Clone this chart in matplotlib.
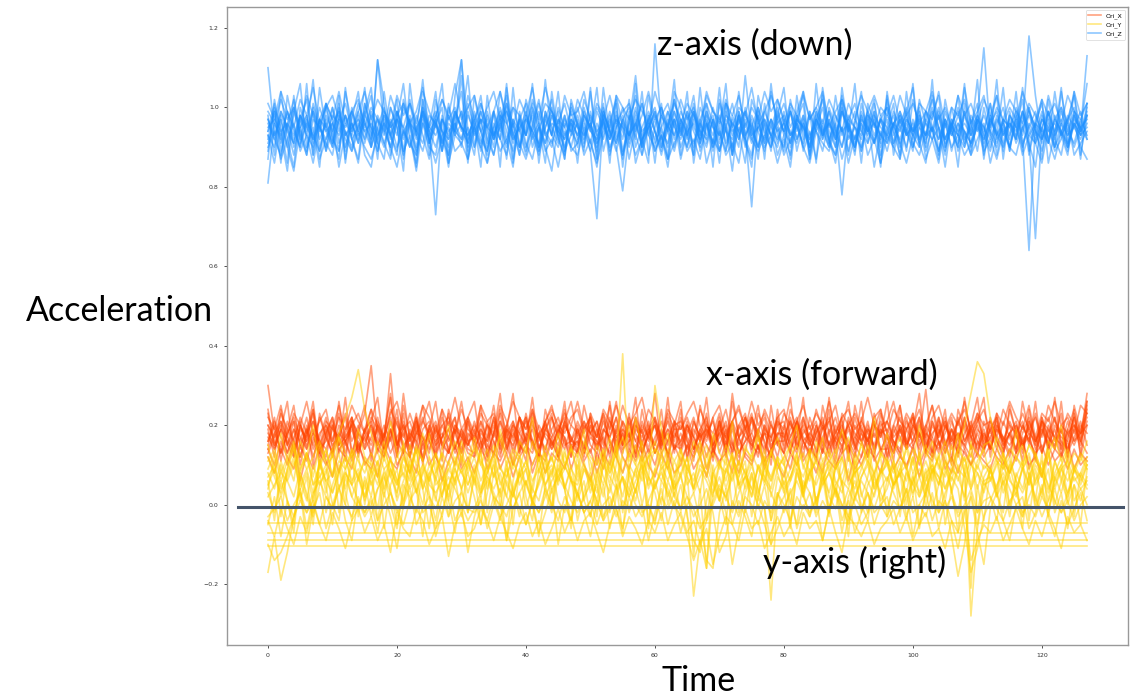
import numpy as np
import matplotlib
matplotlib.use("Agg")
import matplotlib.pyplot as plt

# values in hundredths, one string per recorded window (128 samples each)
ori_z = [
"""110 93 97 90 99 94 88 101 95 92 98 96 89 100 94 97
91 112 95 90 99 93 97 88 102 94 73 98 92 96 90 101
95 89 99 93 97 91 100 94 88 96 102 93 90 97 95 99
92 96 89 72 98 94 91 97 100 93 88 95 99 92 96 90
97 93 101 89 95 98 92 96 90 99 94 75 97 91 95 100
93 88 97 95 91 99 94 90 96 102 92 95 89 98 93 97
91 96 94 99 90 95 93 100 92 97 89 96 94 91 98 115
93 90 97 95 99 92 64 96 94 91 98 93 96 90 95 97""",
"""81 96 92 99 94 90 97 93 100 95 91 98 94 89 96 92
99 94 90 97 93 101 95 89 96 92 98 94 90 99 95 93
97 90 96 92 100 94 89 97 93 99 95 91 98 94 90 96
93 99 95 90 97 92 96 88 94 100 93 97 91 95 99 92
96 90 98 94 92 97 89 95 101 93 96 91 98 94 90 97
94 99 92 96 90 97 93 100 95 78 96 92 98 94 91 97
95 90 98 93 96 92 99 94 89 97 93 96 91 98 95 92
97 93 90 96 94 99 92 67 95 91 97 94 90 96 93 99""",
"""94 101 89 96 92 98 93 90 97 95 100 91 96 93 99 94
90 97 93 100 95 88 96 92 98 94 90 97 93 99 95 91
98 94 89 96 92 99 93 97 90 95 101 94 91 97 93 96
90 98 94 92 97 89 95 100 93 96 91 98 94 90 97 93
99 95 91 96 93 100 94 89 97 92 98 95 90 96 93 99
94 91 97 95 90 98 93 96 92 99 94 90 97 95 91 98
93 96 90 97 94 99 92 95 89 96 93 98 94 91 97 95
90 98 93 96 92 99 94 91 97 95 90 96 93 98 94 113""",
"""98 88 104 92 85 100 95 107 89 97 91 103 86 99 94 105
90 112 101 88 97 106 92 86 100 95 104 89 98 93 108 87
96 103 91 99 85 105 94 88 102 96 90 107 93 99 87 101
95 89 104 92 98 86 103 95 91 106 88 97 100 93 87 102
94 99 88 105 91 97 86 101 95 90 108 93 99 87 104 96
89 102 94 98 87 106 92 97 90 103 95 88 101 94 99 86
104 93 97 89 102 95 91 107 88 99 94 103 90 96 101 87
98 93 105 89 100 95 118 103 92 97 90 104 94 99 87 101""",
"""92 99 86 103 95 90 106 88 97 101 93 87 104 96 91 99
105 89 96 93 102 87 98 94 107 91 96 100 86 103 112 94
88 101 95 90 104 97 86 99 93 106 89 97 102 92 88 100
96 91 105 87 99 94 101 89 96 108 92 86 116 95 90 104
100 93 88 100 96 91 105 89 98 94 86 102 97 91 106 93
90 99 95 104 87 97 102 92 88 105 94 99 86 101 96 91
103 88 97 93 106 90 99 95 87 102 94 90 105 96 89 100
93 107 89 98 95 102 88 96 101 91 104 93 88 99 95 106""",
"""95 97 94 96 93 98 95 92 97 94 96 99 93 95 97 94
96 93 98 95 97 92 96 94 99 95 93 97 94 96 92 98
94 97 95 93 98 96 92 95 97 94 99 93 96 95 92 97
95 93 98 94 96 92 97 95 93 99 94 96 92 98 95 93
97 94 96 92 98 95 93 97 94 96 99 93 95 92 97 94
96 93 98 95 92 97 94 96 93 99 95 92 97 94 96 93
98 95 92 97 94 96 93 99 95 92 97 94 96 93 98 95
92 97 94 96 93 99 95 92 97 94 96 93 98 95 92 96""",
"""90 94 87 92 96 89 93 86 95 91 88 97 92 89 94 90
87 93 96 90 85 94 91 88 97 92 86 93 95 89 91 87
94 90 86 95 92 88 97 91 87 93 96 89 92 85 94 90
88 95 91 86 93 97 90 79 94 88 92 96 89 93 87 91
95 89 92 87 96 90 94 88 91 86 97 92 89 93 90 95
88 92 96 90 86 94 91 89 95 87 93 90 96 88 92 86
93 90 87 95 91 88 94 92 86 96 90 93 88 91 95 89
92 87 94 90 96 88 93 91 86 95 89 92 97 88 91 94""",
"""99 96 102 97 100 95 103 98 94 101 97 104 96 99 102 95
100 97 94 103 98 101 96 99 105 95 98 102 97 100 94 103
97 101 95 99 104 96 100 98 93 102 97 105 99 96 101 94
102 98 95 100 97 103 96 99 101 94 98 104 97 100 95 102
96 101 98 94 103 99 97 102 95 100 98 105 96 99 103 97
101 95 99 104 97 100 96 102 98 94 101 97 103 99 95 100
98 103 96 100 94 101 99 97 104 95 100 98 102 96 99 103
95 100 97 102 99 96 101 98 94 103 97 100 96 104 98 101""",
"""87 102 93 84 99 106 90 95 85 101 97 89 105 92 86 98
103 91 87 100 95 84 106 93 99 88 102 94 85 97 104 90
96 85 103 92 98 87 105 90 95 101 86 99 93 104 89 97
86 100 94 105 89 96 102 85 98 92 104 88 95 101 87 99
93 104 86 97 101 90 95 106 88 99 92 85 103 96 89 102
97 87 103 92 99 86 105 94 90 101 88 96 104 91 97 85
102 94 88 99 105 91 86 98 103 90 96 85 101 93 107 88
96 103 87 99 92 105 89 97 102 86 94 100 91 104 88 98""",
"""93 90 99 95 88 97 102 91 96 89 100 94 98 92 87 101
95 91 98 93 88 102 96 90 99 94 97 89 101 93 96 108
90 99 94 88 97 103 92 95 89 100 96 91 98 93 87 102
96 90 99 93 101 88 95 98 92 97 90 103 94 89 99 95
92 98 94 90 101 96 89 99 93 97 92 88 100 95 91 98
94 100 89 96 92 99 95 90 103 93 97 89 98 94 101 92
97 91 99 94 89 102 96 92 98 90 95 100 93 88 97 94
101 93 96 89 98 94 100 91 95 99 92 88 97 103 94 98""",
"""97 92 88 95 100 91 96 93 89 98 94 99 90 96 92 101
94 89 97 92 99 95 90 98 93 87 96 91 100 94 112 89
95 99 92 88 96 101 93 90 97 94 89 99 95 91 98 93
100 94 89 96 92 98 91 97 87 95 101 93 90 98 94 89
96 92 99 94 90 97 93 101 88 95 92 98 94 89 97 91
99 93 96 90 98 94 89 97 92 100 95 91 96 93 99 88
94 98 91 96 93 100 89 95 92 97 94 90 99 93 96 91
98 92 95 90 97 93 100 94 89 96 92 99 94 91 97 93""",
"""91 96 93 99 90 95 98 92 97 89 94 100 93 96 91 98
95 92 99 96 90 94 97 93 100 91 96 89 98 94 92 99
93 97 90 95 99 92 96 88 98 94 91 97 93 100 95 90
97 92 96 91 99 94 89 96 93 98 92 95 99 90 94 97
90 95 99 93 96 91 97 94 88 98 93 96 90 99 95 92
96 91 98 94 90 97 93 99 92 95 89 97 94 91 98 95
93 99 95 90 97 92 96 94 98 91 95 93 99 90 96 92
97 94 91 98 95 90 96 93 99 92 97 94 91 96 93 98""",
"""97 93 99 95 91 98 94 100 92 96 90 97 95 99 93 96
92 98 94 90 97 95 101 93 89 96 99 94 92 98 95 91
99 94 97 92 95 100 91 96 93 98 90 95 99 94 92 97
93 97 91 99 95 92 98 94 90 96 101 93 97 91 95 99
94 90 97 93 99 95 91 98 96 92 100 94 90 97 93 96
98 93 95 91 99 94 97 92 96 90 98 95 93 99 91 97
92 96 99 94 90 97 93 95 100 92 96 91 98 94 97 90
96 99 93 97 91 95 98 94 92 99 93 96 90 97 95 92""",
"""89 100 95 86 103 92 98 88 105 94 90 101 87 97 104 91
98 87 104 93 89 100 96 85 102 91 97 106 88 95 99 86
103 94 88 99 92 106 87 97 101 90 95 86 104 93 98 89
91 102 97 87 105 93 99 88 96 103 90 98 86 100 94 107
88 96 103 91 99 85 102 95 89 104 93 97 87 101 92 98
105 90 97 101 88 95 103 92 86 99 94 106 89 96 102 90
95 101 87 104 92 98 90 103 95 88 100 93 106 89 97 93
101 88 96 92 104 89 99 95 87 102 93 105 90 98 94 100""",
"""96 92 98 94 91 97 93 99 95 90 96 93 98 92 95 99
93 97 91 96 99 94 90 95 98 93 97 91 96 94 99 92
95 91 98 93 96 90 97 94 99 92 95 98 93 90 96 94
98 93 96 91 94 99 92 97 93 96 90 95 98 94 91 97
93 99 95 92 97 93 98 91 96 94 99 92 95 97 93 90
97 94 91 98 93 96 92 99 94 90 97 95 92 98 96 93
91 96 98 93 95 91 97 94 99 92 96 93 90 97 94 98
94 91 97 95 92 98 93 96 91 99 94 97 93 95 99 92""",
"""93 86 97 90 84 95 89 99 87 92 96 85 94 90 98 88
85 95 91 87 98 89 93 84 96 90 88 97 86 93 91 95
90 97 86 94 89 92 85 98 91 87 95 90 84 96 89 93
96 88 92 85 97 90 94 87 99 86 92 95 89 93 85 97
87 94 90 97 86 92 89 95 84 98 91 87 96 90 93 86
92 85 98 89 94 87 96 91 88 95 86 93 90 97 85 94
89 96 91 86 93 98 87 92 95 85 97 89 94 88 92 96
86 93 97 90 88 95 91 85 98 92 87 94 89 96 90 87""",
"""101 97 104 99 95 102 98 105 96 100 103 97 101 94 99 104
97 102 99 95 103 98 101 96 104 99 95 102 98 106 97 100
103 96 100 104 97 99 95 102 98 105 96 101 99 94 103 98
99 104 96 101 98 95 103 100 97 102 99 96 104 98 101 95
102 97 100 95 104 99 96 101 98 103 95 100 97 104 99 102
96 101 98 103 97 100 104 95 99 102 97 101 94 99 103 98
100 95 103 98 101 96 99 104 97 100 95 103 98 101 96 102
98 103 96 100 97 104 99 95 102 98 101 96 103 99 97 101""",
"""94 99 91 96 102 93 88 97 95 100 92 89 98 94 101 96
90 95 100 93 97 89 102 94 91 98 96 92 88 99 95 93
97 92 89 99 94 101 96 90 98 93 88 95 100 92 97 94
91 98 95 89 100 93 97 92 102 90 95 99 94 88 96 101
97 93 99 91 96 89 101 94 92 98 90 95 100 93 97 88
93 99 92 97 89 95 100 91 98 94 96 90 99 95 92 97
100 91 95 98 93 90 97 102 94 89 96 99 92 95 98 93
89 96 100 93 97 91 95 99 92 98 90 94 97 100 93 95""",
]

ori_x = [
"""30 18 14 21 16 12 19 15 22 17 13 20 16 11 18 23
35 17 14 21 15 19 12 18 22 16 13 20 17 14 19 15
21 16 12 18 23 15 19 13 17 21 14 18 16 12 20 17
14 19 22 15 17 12 20 16 18 13 21 17 15 19 12 18
16 21 14 18 12 17 20 15 19 13 16 22 14 18 17 12
19 15 21 16 13 18 22 14 17 20 15 12 19 16 21 14
17 13 20 15 18 22 16 12 19 14 21 17 15 20 13 18
15 20 16 12 19 14 21 17 13 18 22 16 14 19 15 24""",
"""24 15 19 13 17 21 14 18 16 12 20 15 19 22 14 17
13 20 16 33 15 18 12 21 17 14 19 16 13 20 18 15
18 14 21 16 12 19 17 22 15 13 18 20 14 17 21 16
21 17 13 19 15 22 14 18 12 20 16 19 13 17 21 15
14 19 16 12 21 15 18 20 13 17 22 14 19 16 12 18
17 21 14 19 16 12 20 15 18 22 13 17 15 20 14 19
12 18 22 16 14 20 17 13 21 15 19 16 22 14 18 13
20 16 13 18 21 15 17 12 19 14 20 17 16 22 13 25""",
"""16 22 11 19 25 14 20 10 23 17 13 26 15 21 12 19
24 13 18 27 12 20 16 23 11 19 26 14 17 22 10 21
15 25 12 18 28 14 21 16 11 24 19 13 22 17 26 12
20 14 23 10 18 25 13 21 17 27 12 19 15 24 11 20
26 12 19 16 23 11 21 14 28 17 13 22 18 10 25 15
13 21 17 27 12 20 15 24 11 19 26 14 22 16 12 23
18 11 25 14 20 17 29 13 22 16 10 24 19 14 21 27
12 23 16 20 13 26 18 11 22 15 27 14 19 24 12 20""",
"""12 8 14 10 16 6 13 9 15 11 7 14 12 9 16 10
13 7 15 11 9 14 12 8 16 10 13 6 11 15 9 12
8 14 11 16 9 13 7 12 15 10 14 8 13 11 17 9
14 10 6 13 9 15 12 8 14 11 16 10 7 13 9 15
11 15 9 12 7 14 10 16 12 8 13 11 15 9 14 10
7 13 10 16 12 8 14 11 9 15 6 13 10 14 12 8
15 9 12 10 14 7 13 11 16 9 12 8 14 10 13 11
9 14 11 8 13 16 10 12 7 15 11 13 9 14 10 12""",
"""22 19 25 17 23 20 26 18 21 24 16 22 19 25 21 18
24 20 17 23 26 19 21 16 25 22 18 24 20 27 19 22
18 25 21 23 17 20 26 22 19 24 16 21 25 18 23 20
26 19 22 17 24 21 18 25 20 23 27 19 22 16 24 21
19 23 26 20 17 22 25 18 21 24 19 26 20 23 17 22
24 17 21 25 19 23 20 26 18 22 24 19 21 27 20 18
21 26 18 23 20 24 17 22 25 19 23 20 26 18 21 24
18 23 20 26 22 19 25 17 23 21 26 20 22 18 25 23""",
"""17 14 19 16 13 20 15 18 12 17 21 14 16 19 13 18
15 19 13 17 21 14 18 16 12 20 15 17 19 13 16 21
14 18 16 20 13 17 15 19 22 14 18 12 17 20 15 16
19 13 17 15 21 16 12 18 14 19 17 21 13 16 18 14
16 20 14 18 15 12 19 17 21 13 16 18 14 20 15 17
13 17 21 14 18 16 20 12 17 15 19 14 18 16 21 13
18 15 12 19 16 21 14 17 13 20 16 18 15 12 19 17
14 19 17 13 20 15 18 16 21 14 17 12 19 16 18 20""",
"""19 12 24 15 21 10 18 26 13 20 16 23 11 22 17 14
21 27 14 19 12 25 17 22 10 20 15 24 13 18 26 16
12 21 17 25 14 19 28 13 22 16 11 24 18 15 21 26
17 13 23 19 11 26 15 21 18 12 24 16 20 14 27 13
22 16 11 25 18 14 21 12 26 17 20 13 23 19 10 24
15 24 19 12 22 17 13 27 16 21 11 25 18 14 23 17
26 14 20 16 23 12 19 25 15 18 22 13 27 17 12 21
16 22 13 25 18 11 24 15 21 19 14 26 12 23 17 28""",
"""14 18 21 15 12 19 17 23 14 16 20 13 18 22 15 17
20 14 17 22 16 13 19 15 21 18 12 17 23 14 19 16
17 21 13 18 15 20 14 22 16 19 13 21 15 18 24 14
16 12 20 17 23 15 18 13 21 16 19 14 22 17 13 20
21 17 14 19 16 22 13 18 15 20 23 16 12 19 17 21
14 19 22 16 13 18 21 15 20 17 14 22 16 19 13 18
19 16 13 21 18 14 20 17 22 15 19 12 18 21 16 14
17 21 15 18 14 20 16 23 13 19 17 15 21 16 20 18""",
"""20 16 13 18 22 17 14 21 15 19 12 18 23 16 20 14
17 22 15 19 13 28 16 20 14 18 21 15 13 19 17 22
16 13 20 17 21 14 18 15 23 16 12 19 22 17 14 20
18 21 15 13 19 17 22 14 16 20 18 13 17 21 15 19
13 18 22 16 20 14 17 21 15 12 19 23 16 18 14 20
21 14 17 20 15 19 13 18 22 16 20 15 12 19 17 21
15 20 17 14 22 16 19 13 18 21 14 17 20 16 23 15
19 14 21 17 13 18 22 16 20 15 19 13 17 22 16 21""",
"""15 21 17 13 19 16 22 14 18 20 15 17 13 21 18 16
19 15 20 16 24 13 17 21 15 18 14 22 16 19 13 17
20 17 14 22 16 19 13 18 21 15 20 17 14 19 22 15
13 20 18 16 14 21 17 19 15 22 13 18 20 16 19 14
18 14 21 17 19 16 22 13 20 15 18 21 17 14 20 16
16 22 15 18 20 13 17 21 14 19 16 13 21 18 15 20
21 17 19 14 16 22 15 18 20 13 17 21 16 19 14 18
14 19 16 21 17 15 20 14 18 22 16 19 13 17 21 15""",
"""18 15 21 17 14 20 16 19 13 18 22 15 17 20 14 19
16 20 14 18 22 15 17 13 19 21 16 18 14 20 17 15
19 14 17 21 16 13 20 18 15 22 14 19 17 13 21 16
15 21 18 14 19 17 22 15 20 16 13 18 21 15 19 17
20 16 13 19 22 15 18 14 21 17 19 15 13 20 16 22
17 13 20 16 18 21 14 19 16 13 22 17 20 15 18 14
14 19 16 22 15 18 13 20 17 21 15 18 14 19 22 16
21 17 14 18 20 16 19 15 22 17 14 20 18 15 19 23""",
"""13 17 20 15 19 12 18 21 16 14 19 17 22 13 18 15
20 16 12 19 15 21 14 18 17 13 20 15 19 22 14 18
16 19 15 13 21 17 20 14 18 16 12 21 15 19 17 13
19 14 18 21 16 13 19 15 22 18 14 17 20 13 16 21
15 20 17 14 18 21 15 19 13 20 17 15 19 22 14 18
18 13 21 17 15 20 16 13 19 14 21 18 16 12 20 17
21 16 14 19 22 15 18 16 14 20 17 13 21 17 15 19
14 20 17 15 18 13 21 16 19 15 22 14 18 20 16 13""",
"""23 14 19 26 12 20 16 24 10 18 22 15 27 13 19 25
11 21 17 28 14 23 12 19 25 16 20 11 24 18 13 22
26 15 20 12 24 18 10 22 16 27 14 19 23 12 20 17
13 25 18 21 11 19 26 15 23 12 20 17 28 14 22 16
24 11 21 17 27 13 19 24 16 10 22 18 25 15 12 21
19 27 14 22 16 11 25 18 13 23 20 15 26 12 19 24
12 20 25 15 19 28 13 21 17 24 11 22 16 20 27 14
22 16 12 24 18 21 15 26 13 20 17 23 11 25 18 26""",
"""14 10 16 12 9 15 11 17 13 10 14 8 16 12 15 11
9 14 12 17 10 13 8 15 11 16 12 9 14 10 17 13
12 16 9 13 11 15 10 14 17 8 13 11 16 12 9 15
16 11 14 8 13 10 17 12 9 15 11 14 10 16 13 8
10 15 12 16 9 14 11 13 8 17 12 10 15 11 14 16
13 9 17 11 14 12 8 16 10 13 15 9 12 17 11 14
11 16 13 9 15 10 14 12 16 11 8 15 13 10 16 12
15 12 10 14 11 17 9 13 15 10 14 12 16 9 13 11""",
"""20 17 23 19 16 22 18 24 15 21 19 25 17 20 23 18
22 19 16 24 20 17 23 18 21 26 17 20 22 18 24 19
17 23 20 18 25 21 16 22 19 23 17 21 24 20 18 22
24 18 21 17 23 19 25 20 16 22 18 24 21 17 23 19
19 22 17 24 20 18 23 16 21 25 19 22 18 24 20 17
23 20 18 22 16 24 19 21 25 17 20 23 19 16 22 24
18 24 21 19 23 17 20 25 18 22 16 21 24 19 23 20
21 17 24 20 18 23 19 22 17 25 21 18 23 20 16 26""",
"""16 20 13 18 21 15 19 12 17 22 14 18 16 20 13 19
21 15 18 13 17 20 14 22 16 19 13 17 21 15 18 14
13 19 16 22 14 18 21 15 13 20 17 14 19 22 16 12
18 15 20 14 22 16 13 19 17 21 15 20 13 18 16 21
14 20 17 13 19 15 21 17 14 19 22 16 18 13 21 15
20 16 13 21 17 14 19 22 15 18 13 20 16 21 14 19
17 13 19 15 20 18 14 21 16 13 19 15 22 17 20 14
19 22 15 18 14 20 16 13 21 17 15 19 14 20 18 22""",
]

ori_y = [
"""-17 -8 -19 -12 -3 4 -6 2 8 -2 5 10 3 -4 7 1
6 -1 9 4 -5 3 11 6 0 8 2 -3 5 9 4 -2
7 3 10 1 -4 6 2 9 -1 5 12 3 -2 7 4 10
1 6 -3 8 2 11 5 -1 4 9 0 7 3 -4 6 2
8 -2 -23 -9 -16 3 7 1 9 -2 5 10 4 -1 -24 2
6 0 9 3 -3 7 11 2 -1 6 4 9 -2 5 8 1
4 10 2 -4 7 3 9 -1 5 11 3 -2 8 -28 -6 4
9 2 6 -3 8 4 10 0 5 -2 7 3 9 1 4 6""",
"""12 7 3 9 14 6 1 10 5 8 13 4 9 2 7 11
5 9 3 12 6 1 8 14 4 10 7 2 11 5 9 3
8 13 4 10 2 7 12 5 9 1 6 11 3 8 14 6
2 9 5 12 7 3 10 38 6 1 8 13 4 9 2 7
11 5 8 3 13 6 1 9 12 4 7 2 10 5 14 8
3 7 12 4 9 1 6 11 5 8 13 2 7 10 4 9
6 11 2 8 5 13 3 9 7 1 10 6 12 4 8 3
9 4 12 7 2 10 5 13 8 3 11 6 1 9 5 10""",
"""-5 2 -8 1 -3 4 -10 -1 3 -6 0 5 -4 -9 2 -2
1 -7 3 -3 -11 0 4 -5 -1 2 -8 -2 5 -4 0 -12
-3 2 -6 0 4 -9 -1 3 -5 1 -7 -2 4 -10 0 -4
3 -2 -8 1 -4 5 -1 -6 2 -3 0 -9 -2 4 -5 1
-7 0 3 -4 -14 -16 -2 4 -5 1 -3 -8 2 -1 -10 3
-2 4 -6 0 -3 2 -9 -1 5 -4 1 -7 -2 3 -5 0
2 -5 -1 4 -8 0 -3 3 -6 1 -4 -11 -2 2 -7 -15
-1 3 -4 -9 0 2 -6 -2 4 -3 -8 1 -5 -1 3 -4""",
"""8 4 11 6 2 9 13 5 7 10 3 8 12 6 9 4
11 7 2 9 5 12 8 3 10 6 13 7 4 11 8 5
9 3 12 7 10 5 2 8 11 6 9 13 4 7 10 6
5 10 7 3 11 8 13 6 2 9 12 7 4 10 6 11
7 12 4 9 6 2 10 8 13 5 7 11 3 9 6 12
10 6 13 4 8 11 7 3 9 12 5 8 10 6 2 9
12 5 8 10 3 7 11 6 13 4 9 7 2 10 8 5
6 11 3 8 12 9 5 10 7 13 4 9 11 6 8 12""",
"""2 5 8 6 10 13 9 12 16 11 14 18 22 27 34 24
18 13 9 11 6 8 4 7 10 5 3 6 9 12 8 11
14 10 7 4 8 2 -1 3 6 1 5 9 12 7 10 6
3 -2 1 5 -3 0 4 7 2 6 10 5 8 12 9 4
7 2 -1 -6 -3 1 5 2 7 11 8 4 9 6 3 -1
2 6 10 7 12 9 5 8 3 -1 4 0 -5 -2 3 7
11 8 13 9 5 2 6 10 7 4 8 14 20 28 36 33
22 15 9 12 6 3 7 2 -3 1 5 9 6 10 7 4""",
"""6 -4 10 1 -7 8 3 -2 12 5 -5 9 0 14 -3 7
2 11 -6 5 9 -1 13 4 -8 7 1 10 -3 6 12 -2
8 -5 3 11 0 -9 6 13 2 -4 9 5 -1 12 4 -6
10 1 -3 7 14 -2 5 -7 9 3 11 -4 6 0 13 2
-1 8 -13 4 -16 10 2 -5 11 6 -2 8 1 12 -4 7
4 -6 9 2 13 -1 7 -3 10 5 -8 11 3 -2 8 12
-3 6 11 0 8 -5 3 12 -1 9 4 -7 10 -21 5 -4
9 3 -2 11 6 -6 8 1 13 -3 7 10 0 5 -5 9""",
"""11 14 8 12 16 9 13 7 15 10 12 17 9 14 11 8
13 10 16 7 12 15 9 14 11 18 8 13 10 16 12 9
15 11 8 13 17 10 14 12 9 16 11 13 7 15 10 14
9 16 12 10 14 8 13 17 11 15 9 12 16 10 14 11
14 8 12 16 10 13 9 15 11 7 14 12 17 10 13 9
12 15 10 13 8 16 11 14 9 12 17 10 15 11 8 13
10 13 17 9 14 11 15 8 12 16 10 14 11 13 9 15
16 11 9 14 12 10 15 13 8 12 17 11 14 9 13 10""",
"""-3 -1 2 -4 0 3 -2 1 -5 2 -1 4 0 -3 1 -2
2 -4 0 3 -1 -5 1 4 -2 0 -6 2 -3 1 3 -1
-2 1 -4 2 0 -3 3 -1 -5 1 -2 4 0 -4 2 -1
3 -2 1 -5 0 2 -3 1 -1 4 -2 0 -4 2 -1 3
-1 2 -3 0 4 -2 -12 -8 1 -3 2 0 -5 1 -2 3
0 -4 2 -1 3 -3 1 -2 4 0 -5 2 -1 3 -2 0
-3 1 -1 4 -2 0 3 -4 1 -1 2 -3 0 4 -2 1
2 -1 -4 1 3 -2 0 -3 2 -1 4 -2 1 -4 0 2""",
"""4 12 -3 9 15 1 7 -5 11 3 14 -2 8 5 13 0
9 -4 6 12 2 16 -1 10 4 -6 8 13 1 7 -3 11
5 14 -2 8 3 11 -5 9 15 0 6 12 -1 10 4 -4
13 1 7 -3 11 5 16 -2 8 3 12 -6 9 14 0 6
-2 10 4 15 -4 8 1 13 -1 7 11 -3 6 14 2 9
12 -5 8 3 14 0 9 -2 11 6 -4 13 2 7 15 -1
6 11 -3 9 2 14 -1 8 12 -5 4 10 1 16 -2 7
10 3 13 -1 7 11 -4 9 2 14 0 6 12 -3 8 5""",
"""7 10 4 8 12 5 9 3 11 6 8 13 4 10 7 2
9 5 12 7 3 10 6 14 4 8 11 2 9 6 13 5
10 4 8 13 6 2 11 7 9 3 12 5 8 14 4 9
6 11 3 9 5 12 8 2 10 7 13 4 9 6 11 3
12 7 4 10 8 3 11 6 13 5 9 2 10 7 4 12
5 9 13 3 8 11 6 10 2 12 7 4 9 13 5 8
11 4 9 6 12 2 8 10 5 13 3 9 7 11 4 10
8 12 5 10 3 9 13 6 11 4 8 12 2 9 7 11""",
"""3 -2 6 1 -5 8 2 -3 5 9 0 -4 7 2 -1 6
-3 4 8 0 -6 5 2 -2 9 3 -4 6 1 -7 4 8
2 -5 7 3 -1 10 4 -3 6 0 -8 5 9 1 -2 7
-4 3 8 -1 5 -6 2 7 -2 4 9 0 -5 6 3 -1
5 -3 -9 -12 1 8 4 -2 -15 -6 3 7 -1 5 -4 2
8 1 -5 6 3 -2 9 -1 4 -7 2 6 0 -4 7 3
-1 5 8 -3 2 -6 4 9 -2 1 -8 -18 -10 3 -5 6
2 -4 7 0 5 -3 8 -1 4 9 -2 3 -6 5 1 7""",
"""9 13 6 11 15 8 12 5 10 14 7 11 9 13 6 12
10 7 14 9 5 12 8 15 11 6 13 9 4 11 14 8
12 6 10 15 9 7 13 11 5 10 14 8 12 6 9 15
7 14 11 5 12 9 15 8 13 10 6 12 14 9 11 5
13 9 6 12 15 8 11 4 10 14 7 13 9 12 6 11
8 12 15 10 6 13 9 11 14 5 12 8 10 15 7 13
11 5 9 14 8 12 6 13 10 7 15 9 12 5 11 14
6 10 13 8 12 15 7 11 9 14 6 10 13 8 12 9""",
"""-10 -14 -12 -8 -3 1 -2 3 6 2 -1 4 8 5 1 -3
0 4 7 3 -2 1 5 9 6 2 -1 3 7 4 0 -4
-1 3 6 2 -3 0 4 8 5 1 -2 2 6 9 5 1
-2 2 5 1 -4 -1 3 7 4 0 -3 1 5 8 4 0
-3 -8 -14 -9 -4 0 4 2 -2 3 7 4 0 -5 -10 -6
-1 3 6 2 -2 1 5 8 4 0 -3 2 6 3 -1 4
7 3 -1 2 6 9 5 1 -2 3 7 4 -6 -17 -11 -3
1 5 8 4 0 -3 2 6 9 5 1 -2 3 7 4 0""",
"""5 9 2 7 11 4 8 1 10 6 3 9 12 5 8 2
7 11 4 9 1 6 10 3 8 12 5 7 2 9 4 11
6 2 8 12 5 9 3 7 11 4 1 8 10 5 13 7
3 9 6 1 10 7 4 12 8 22 14 6 30 19 9 4
8 12 3 7 10 5 1 9 6 11 4 8 2 10 7 12
4 7 11 2 8 5 10 13 6 3 9 1 7 11 4 8
10 5 8 3 12 7 2 9 5 11 6 13 8 4 10 6
7 2 10 6 4 9 12 5 8 1 11 7 3 9 6 10""",
"""15 8 18 11 6 16 12 20 9 14 7 17 13 10 19 12
8 16 11 21 13 7 15 10 18 12 6 14 20 9 16 11
17 10 14 7 19 12 9 16 13 22 8 15 11 18 10 14
12 19 8 15 11 17 6 13 20 10 16 9 14 12 18 7
14 9 16 12 7 18 13 10 21 8 15 11 19 6 13 17
10 15 20 9 14 11 17 8 12 19 13 7 16 10 22 12
18 11 7 15 10 20 12 16 9 14 11 18 8 15 13 9
11 17 13 8 19 10 15 12 7 16 14 20 9 13 11 16""",
"""-4 -8 -1 -6 -10 -3 -7 0 -5 -9 -2 -6 -11 -4 -1 -7
-3 -9 -5 -12 -2 -6 -8 -1 -4 -10 -6 -3 -13 -5 -2 -8
-6 -1 -4 -9 -3 -7 -11 -5 -2 -8 -4 -10 -6 -1 -7 -3
-9 -4 -2 -7 -12 -5 -1 -8 -3 -6 -10 -4 -7 -2 -9 -5
-2 -7 -4 -10 -6 -15 -8 -3 -5 -9 -1 -6 -4 -11 -7 -3
-8 -5 -10 -2 -6 -4 -9 -1 -7 -12 -3 -5 -8 -4 -10 -6
-4 -1 -7 -3 -9 -5 -2 -8 -6 -11 -4 -7 -1 -14 -9 -5
-7 -3 -9 -5 -1 -6 -10 -4 -8 -2 -6 -11 -3 -7 -5 -9""",
]

# padded windows that stay flat for the whole length
ori_y_flat = [-0.045, -0.072, -0.088, -0.104]
n_samples = 128
zero_level = -0.005

labels = ["Ori_X", "Ori_Y", "Ori_Z"]
colors = ["#FF4500", "#FFD000", "#1E90FF"]


def parse(s):
    return np.array(s.split(), dtype=float) / 100


fig = plt.figure(figsize=(11.38, 6.95), dpi=100)
ax = fig.add_axes([0.1995, 0.072, 0.7917, 0.918])

groups = [
    [parse(s) for s in ori_x],
    [parse(s) for s in ori_y] + [np.full(n_samples, v) for v in ori_y_flat],
    [parse(s) for s in ori_z],
]

for g, lab, col in zip(groups, labels, colors):
    for i, v in enumerate(g):
        ax.plot(np.arange(len(v)), v, color=col, alpha=0.5, lw=1.2,
                label=lab if i == 0 else None)

ax.axhline(zero_level, xmin=0.012, xmax=0.994, color="#44546A", lw=2.2)

ax.tick_params(labelsize=4.5, length=2.5, width=0.6, colors="#333333")
for sp in ax.spines.values():
    sp.set_color("#999999")
    sp.set_linewidth(1.0)

leg = ax.legend(loc="upper right", fontsize=4.5, framealpha=0.8)
leg.get_frame().set_linewidth(0.5)

fnt = dict(family=["Lato", "DejaVu Sans"], fontsize=24.5, color="black",
           ha="center", va="center")
fig.text(755 / 1138, 1 - 45 / 695, "z-axis (down)", **fnt)
fig.text(822 / 1138, 1 - 375 / 695, "x-axis (forward)", **fnt)
fig.text(855 / 1138, 1 - 562 / 695, "y-axis (right)", **fnt)
fig.text(119 / 1138, 1 - 311 / 695, "Acceleration", **fnt)
fig.text(699 / 1138, 1 - 681 / 695, "Time", **fnt)

fig.savefig("out.png", dpi=100)
